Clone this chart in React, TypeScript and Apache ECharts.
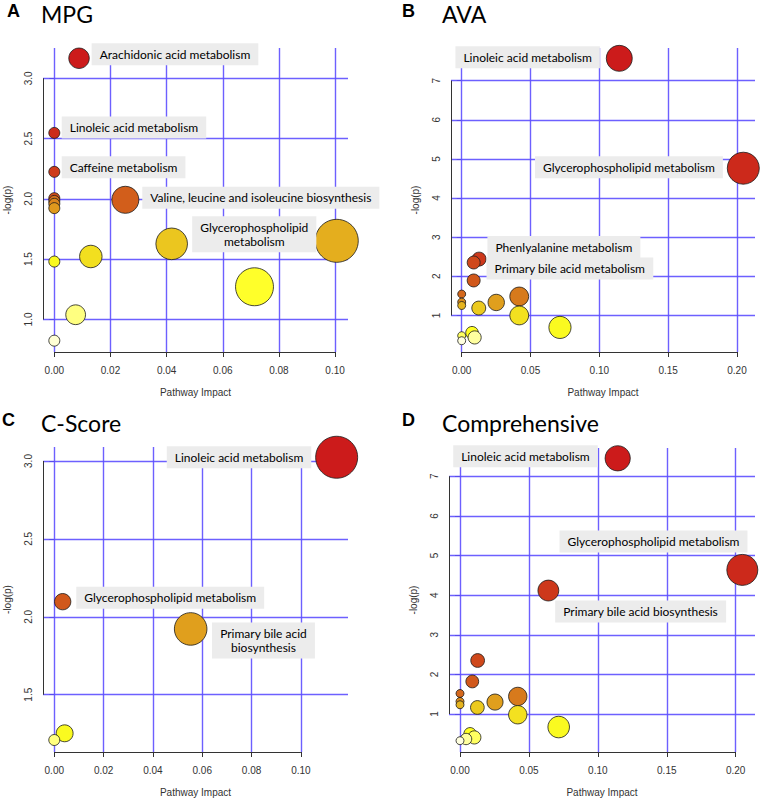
import React, { useEffect, useRef } from "react";
import * as echarts from "echarts";

// ---------- DATA ----------
// Panel A: MPG
const mpgImpact = [0.0088, 0.0, 0.0, 0.0, 0.0253, 0.0, 0.0, 0.0, 0.1006, 0.0418, 0.013, 0.0, 0.0713, 0.0076, 0.0];
const mpgLogP = [3.166, 2.547, 2.224, 2.006, 1.992, 1.983, 1.959, 1.923, 1.652, 1.627, 1.522, 1.48, 1.271, 1.039, 0.824];
const mpgLabels = [
  "Arachidonic acid metabolism", "Linoleic acid metabolism", "Caffeine metabolism", "",
  "Valine, leucine and isoleucine biosynthesis", "", "", "", "Glycerophospholipid\nmetabolism",
  "", "", "", "", "", "",
];

// Panel B: AVA
const avaImpact = [0.1145, 0.2046, 0.0126, 0.0087, 0.0087, 0.0, 0.0418, 0.0, 0.0251, 0.0, 0.0124, 0.0418, 0.0714, 0.0075, 0.0, 0.0094, 0.0];
const avaLogP = [7.571, 4.763, 2.44, 2.353, 1.894, 1.546, 1.485, 1.342, 1.332, 1.255, 1.189, 1.0, 0.694, 0.558, 0.482, 0.438, 0.354];
const avaLabels = [
  "Linoleic acid metabolism", "Glycerophospholipid metabolism", "Phenlyalanine metabolism",
  "Primary bile acid metabolism", "", "", "", "", "", "", "", "", "", "", "", "", "",
];

// Panel C: C-Score
const cscoreImpact = [0.1145, 0.0034, 0.0553, 0.0042, 0.0];
const cscoreLogP = [3.024, 2.097, 1.922, 1.252, 1.209];
const cscoreLabels = ["Linoleic acid metabolism", "Glycerophospholipid metabolism", "Primary bile acid\nbiosynthesis", "", ""];

// Panel D: Comprehensive
const compImpact = [0.1144, 0.2048, 0.0641, 0.0128, 0.0089, 0.0, 0.0419, 0.0, 0.0254, 0.0, 0.0126, 0.0419, 0.0716, 0.0073, 0.0104, 0.0044, 0.0];
const compLogP = [7.453, 4.637, 4.116, 2.351, 1.822, 1.519, 1.444, 1.318, 1.302, 1.234, 1.166, 0.982, 0.672, 0.503, 0.41, 0.37, 0.327];
const compLabels = [
  "Linoleic acid metabolism", "Glycerophospholipid metabolism", "Primary bile acid biosynthesis",
  "", "", "", "", "", "", "", "", "", "", "", "", "", "",
];

// Tick labels
const xTicksNarrow = [0, 0.02, 0.04, 0.06, 0.08, 0.1];
const xTicksWide = [0, 0.05, 0.1, 0.15, 0.2];
const yTicksA = [1.0, 1.5, 2.0, 2.5, 3.0];
const yTicksC = [1.5, 2.0, 2.5, 3.0];
const yTicksBD = [1, 2, 3, 4, 5, 6, 7];

const panelLetters = ["A", "B", "C", "D"];
const panelTitles = ["MPG", "AVA", "C-Score", "Comprehensive"];

// ---------- LAYOUT / STYLE ----------
const GRID_COLOR = "#5d4fff";
const LABEL_FONT = "Lato, 'Open Sans', sans-serif";
const AXIS_FONT = "'Liberation Sans', Arial, sans-serif";

type Place = { position: any; distance?: number; offset: number[]; align?: string };

const panels = [
  {
    x: mpgImpact, y: mpgLogP, labels: mpgLabels,
    grid: { left: 43, top: 48, width: 305, height: 304 },
    xMin: -0.00403, xMax: 0.1046, yMin: 0.73, yMax: 3.251,
    xTicks: xTicksNarrow, yTicks: yTicksA, xDec: 2, yDec: 1,
    sizeMin: 11, sizeSpan: 32,
    titlePos: { lx: 7, nx: 41, top: 2 },
    place: {
      "Arachidonic acid metabolism": { position: "right", distance: 2, offset: [0, -4] },
      "Linoleic acid metabolism": { position: "right", distance: 1.5, offset: [0, -5.5] },
      "Caffeine metabolism": { position: "right", distance: 1.5, offset: [0, -4.5] },
      "Valine, leucine and isoleucine biosynthesis": { position: "right", distance: 3, offset: [0, -2] },
      "Glycerophospholipid\nmetabolism": { position: "inside", offset: [-82.5, -6.5], align: "center" },
    } as Record<string, Place>,
  },
  {
    x: avaImpact, y: avaLogP, labels: avaLabels,
    grid: { left: 451, top: 48, width: 304, height: 304 },
    xMin: -0.00777, xMax: 0.2131, yMin: 0.066, yMax: 7.835,
    xTicks: xTicksWide, yTicks: yTicksBD, xDec: 2, yDec: 0,
    sizeMin: 8, sizeSpan: 24,
    titlePos: { lx: 402, nx: 442, top: 2 },
    place: {
      "Linoleic acid metabolism": { position: "left", distance: 6, offset: [0, -1] },
      "Glycerophospholipid metabolism": { position: "left", distance: 4, offset: [0, -1] },
      "Phenlyalanine metabolism": { position: "right", distance: 1, offset: [0, -12] },
      "Primary bile acid metabolism": { position: "right", distance: 6, offset: [0, 6] },
    } as Record<string, Place>,
  },
  {
    x: cscoreImpact, y: cscoreLogP, labels: cscoreLabels,
    grid: { left: 43, top: 447, width: 305, height: 305 },
    xMin: -0.00458, xMax: 0.1191, yMin: 1.132, yMax: 3.0899,
    xTicks: xTicksNarrow, yTicks: yTicksC, xDec: 2, yDec: 1,
    sizeMin: 11, sizeSpan: 31,
    titlePos: { lx: 2, nx: 41, top: 411 },
    place: {
      "Linoleic acid metabolism": { position: "left", distance: 4, offset: [0, 0] },
      "Glycerophospholipid metabolism": { position: "right", distance: 5, offset: [0, -4] },
      "Primary bile acid\nbiosynthesis": { position: "inside", offset: [72.8, 11.5], align: "center" },
    } as Record<string, Place>,
  },
  {
    x: compImpact, y: compLogP, labels: compLabels,
    grid: { left: 449, top: 448, width: 306, height: 304 },
    xMin: -0.00798, xMax: 0.214, yMin: 0.042, yMax: 7.713,
    xTicks: xTicksWide, yTicks: yTicksBD, xDec: 2, yDec: 0,
    sizeMin: 8, sizeSpan: 23,
    titlePos: { lx: 402, nx: 442, top: 411 },
    place: {
      "Linoleic acid metabolism": { position: "left", distance: 7, offset: [0, -2] },
      "Glycerophospholipid metabolism": { position: "inside", offset: [-88.8, -28.5], align: "center" },
      "Primary bile acid biosynthesis": { position: "right", distance: 0, offset: [-4, 21] },
    } as Record<string, Place>,
  },
];

// R-style heat colours assigned by rank of -log(p) (highest = red)
function hsvToHex(h: number, s: number, v: number): string {
  const c = v * s;
  const hp = h / 60;
  const x = c * (1 - Math.abs((hp % 2) - 1));
  let r = 0, g = 0, b = 0;
  if (hp < 1) { r = c; g = x; } else { r = x; g = c; }
  const m = v - c;
  const to = (n: number) => Math.round((n + m) * 255).toString(16).padStart(2, "0");
  return "#" + to(r) + to(g) + to(b);
}
function heatColor(rank: number, n: number): string {
  const j = Math.floor(n / 4);
  const i = n - j;
  if (rank < i) {
    const t = i > 1 ? rank / (i - 1) : 0;
    return hsvToHex(60 * t, 0.87, 0.8 + 0.18 * Math.pow(t, 2));
  }
  const k = rank - i;
  const s0 = 1 - 1 / (2 * j);
  const s1 = 1 / (2 * j);
  const s = j > 1 ? s0 + (s1 - s0) * (k / (j - 1)) : 0.5;
  return hsvToHex(60, s, 1);
}

function buildOption() {
  const grid: any[] = [];
  const xAxis: any[] = [];
  const yAxis: any[] = [];
  const series: any[] = [];
  const title: any[] = [];

  panels.forEach((p, pi) => {
    grid.push({ ...p.grid, containLabel: false, outerBoundsMode: "none" });
    const axisLabelStyle = { fontSize: 10, color: "#333", fontFamily: AXIS_FONT };
    xAxis.push({
      type: "value", gridIndex: pi, min: p.xMin, max: p.xMax,
      axisLine: { show: false }, splitLine: { show: false },
      axisTick: { show: true, customValues: p.xTicks, length: 5, lineStyle: { color: "#333", width: 1 } },
      axisLabel: { ...axisLabelStyle, customValues: p.xTicks, margin: 13, formatter: (v: number) => v.toFixed(p.xDec) },
      name: "Pathway Impact", nameLocation: "middle", nameGap: 35,
      nameTextStyle: { fontSize: 10, color: "#333", fontFamily: AXIS_FONT },
    });
    yAxis.push({
      type: "value", gridIndex: pi, min: p.yMin, max: p.yMax,
      axisLine: { show: false }, splitLine: { show: false },
      axisTick: { show: true, customValues: p.yTicks, length: 5, lineStyle: { color: "#333", width: 1 } },
      axisLabel: { ...axisLabelStyle, customValues: p.yTicks, margin: 10, rotate: 90, formatter: (v: number) => v.toFixed(p.yDec) },
      name: "-log(p)", nameLocation: "middle", nameGap: 31, nameRotate: 90,
      nameTextStyle: { fontSize: 10, color: "#333", fontFamily: AXIS_FONT },
    });

    const n = p.y.length;
    const order = p.y.map((_, k) => k).sort((a, b) => p.y[b] - p.y[a]);
    const rank: number[] = [];
    order.forEach((k, r) => { rank[k] = r; });
    const xmax = Math.max(...p.x);

    const gridLineStyle = { color: GRID_COLOR, width: 1.4, type: "solid", opacity: 0.9 };
    const axisLineStyle = { color: "#333", width: 1, type: "solid" };
    const xT = p.xTicks, yT = p.yTicks;

    series.push({
      type: "scatter", xAxisIndex: pi, yAxisIndex: pi, clip: false, z: 3,
      symbol: "circle",
      symbolSize: (val: number[]) => p.sizeMin + p.sizeSpan * Math.sqrt(val[0] / xmax),
      itemStyle: { borderColor: "#1a1a1a", borderWidth: 0.8, opacity: 1 },
      emphasis: { disabled: true },
      label: {
        show: false, fontFamily: LABEL_FONT, fontSize: 12, color: "#000",
        backgroundColor: "#ececec", padding: [4, 8], lineHeight: 14,
      },
      data: p.x.map((xv, k) => {
        const txt = p.labels[k];
        const item: any = { value: [xv, p.y[k]], itemStyle: { color: heatColor(rank[k], n) } };
        if (txt) {
          const pl = p.place[txt];
          item.label = {
            show: true, formatter: txt, position: pl.position, offset: pl.offset,
            ...(pl.distance != null ? { distance: pl.distance } : {}),
            ...(pl.align ? { align: pl.align, verticalAlign: "middle" } : {}),
          };
        }
        return item;
      }),
      markLine: {
        silent: true, symbol: ["none", "none"], z: 1, animation: false,
        label: { show: false }, emphasis: { disabled: true },
        data: [
          ...xT.map((v) => ({ xAxis: v, lineStyle: gridLineStyle })),
          ...yT.map((v) => ({ yAxis: v, lineStyle: gridLineStyle })),
          [{ coord: [xT[0], p.yMin], lineStyle: axisLineStyle }, { coord: [xT[xT.length - 1], p.yMin] }],
          [{ coord: [p.xMin, yT[0]], lineStyle: axisLineStyle }, { coord: [p.xMin, yT[yT.length - 1]] }],
        ],
      },
    });

    title.push({
      text: panelLetters[pi], left: p.titlePos.lx, top: p.titlePos.top, padding: 0,
      textStyle: { fontFamily: AXIS_FONT, fontWeight: "bold", fontSize: 18, color: "#000" },
    });
    title.push({
      text: panelTitles[pi], left: p.titlePos.nx, top: p.titlePos.top, padding: 0,
      textStyle: { fontFamily: LABEL_FONT, fontWeight: "normal", fontSize: 23, color: "#000" },
    });
  });

  return {
    animation: false,
    backgroundColor: "#ffffff",
    title, grid, xAxis, yAxis, series,
  };
}

export default function App() {
  const ref = useRef<HTMLDivElement>(null);
  useEffect(() => {
    if (!ref.current) return;
    const chart = echarts.init(ref.current, undefined, { renderer: "svg" });
    chart.setOption(buildOption() as any);
    return () => chart.dispose();
  }, []);
  return <div ref={ref} style={{ width: 761, height: 800, position: "absolute", left: 0, top: 0 }} />;
}
